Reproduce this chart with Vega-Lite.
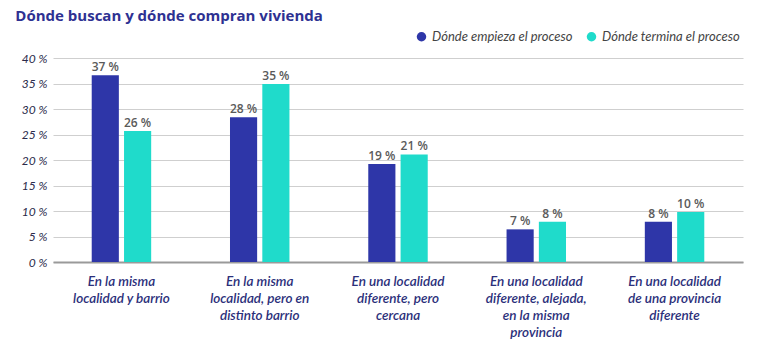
{
  "$schema": "https://vega.github.io/schema/vega-lite/v6.json",
  "width": 690,
  "height": 204,
  "padding": {"left": 15, "top": 9, "right": 26, "bottom": 5},
  "background": "white",
  "title": {
    "text": "Dónde buscan y dónde compran vivienda",
    "anchor": "start",
    "frame": "bounds",
    "font": "Open Sans",
    "fontSize": 15,
    "fontWeight": "bold",
    "color": "#2E3192",
    "offset": 6,
    "dx": -6
  },
  "config": {
    "view": {"stroke": null},
    "font": "Lato"
  },
  "data": {
    "values": [
      {"cat": "En la misma|localidad y barrio", "serie": "Dónde empieza el proceso", "valor": 36.6, "label": "37 %"},
      {"cat": "En la misma|localidad y barrio", "serie": "Dónde termina el proceso", "valor": 25.7, "label": "26 %"},
      {"cat": "En la misma|localidad, pero en|distinto barrio", "serie": "Dónde empieza el proceso", "valor": 28.4, "label": "28 %"},
      {"cat": "En la misma|localidad, pero en|distinto barrio", "serie": "Dónde termina el proceso", "valor": 34.9, "label": "35 %"},
      {"cat": "En una localidad|diferente, pero|cercana", "serie": "Dónde empieza el proceso", "valor": 19.2, "label": "19 %"},
      {"cat": "En una localidad|diferente, pero|cercana", "serie": "Dónde termina el proceso", "valor": 21.1, "label": "21 %"},
      {"cat": "En una localidad|diferente, alejada,|en la misma|provincia", "serie": "Dónde empieza el proceso", "valor": 6.4, "label": "7 %"},
      {"cat": "En una localidad|diferente, alejada,|en la misma|provincia", "serie": "Dónde termina el proceso", "valor": 7.9, "label": "8 %"},
      {"cat": "En una localidad|de una provincia|diferente", "serie": "Dónde empieza el proceso", "valor": 7.9, "label": "8 %"},
      {"cat": "En una localidad|de una provincia|diferente", "serie": "Dónde termina el proceso", "valor": 9.8, "label": "10 %"}
    ]
  },
  "encoding": {
    "x": {
      "field": "cat",
      "type": "nominal",
      "sort": null,
      "scale": {"paddingInner": 0.57, "paddingOuter": 0.28},
      "axis": {
        "title": null,
        "labelAngle": 0,
        "labelExpr": "split(datum.value, '|')",
        "labelFont": "Lato",
        "labelFontSize": 13.5,
        "labelFontStyle": "italic",
        "labelFontWeight": 600,
        "labelColor": "#2B2F7A",
        "labelLineHeight": 17,
        "labelPadding": 12,
        "ticks": false,
        "domainColor": "#9a9a9a",
        "domainWidth": 2,
        "labelLimit": 200
      }
    },
    "xOffset": {
      "field": "serie",
      "type": "nominal",
      "sort": ["Dónde empieza el proceso", "Dónde termina el proceso"],
      "scale": {"paddingInner": 0.16}
    },
    "y": {
      "field": "valor",
      "type": "quantitative",
      "scale": {"domain": [0, 40]},
      "axis": {
        "title": null,
        "values": [0, 5, 10, 15, 20, 25, 30, 35, 40],
        "labelExpr": "datum.value + ' %'",
        "labelFont": "Lato",
        "labelFontSize": 12,
        "labelFontStyle": "italic",
        "labelColor": "#2a2a4a",
        "labelPadding": 6,
        "ticks": false,
        "domain": false,
        "gridColor": "#cfcfcf",
        "gridWidth": 1
      }
    }
  },
  "layer": [
    {
      "mark": {"type": "bar"},
      "encoding": {
        "color": {
          "field": "serie",
          "type": "nominal",
          "sort": ["Dónde empieza el proceso", "Dónde termina el proceso"],
          "scale": {"range": ["#2E36A8", "#1FDBCB"]},
          "legend": {
            "title": null,
            "orient": "none",
            "direction": "horizontal",
            "legendX": 362,
            "legendY": -28,
            "symbolType": "circle",
            "symbolSize": 90,
            "labelFont": "Lato",
            "labelFontSize": 13,
            "labelFontStyle": "italic",
            "labelColor": "#444444",
            "columnPadding": 12,
            "labelOffset": 4
          }
        }
      }
    },
    {
      "mark": {"type": "text", "dy": -8, "font": "Open Sans", "fontSize": 12, "fontWeight": 600, "color": "#5a5a5a"},
      "encoding": {
        "text": {"field": "label"}
      }
    }
  ]
}
